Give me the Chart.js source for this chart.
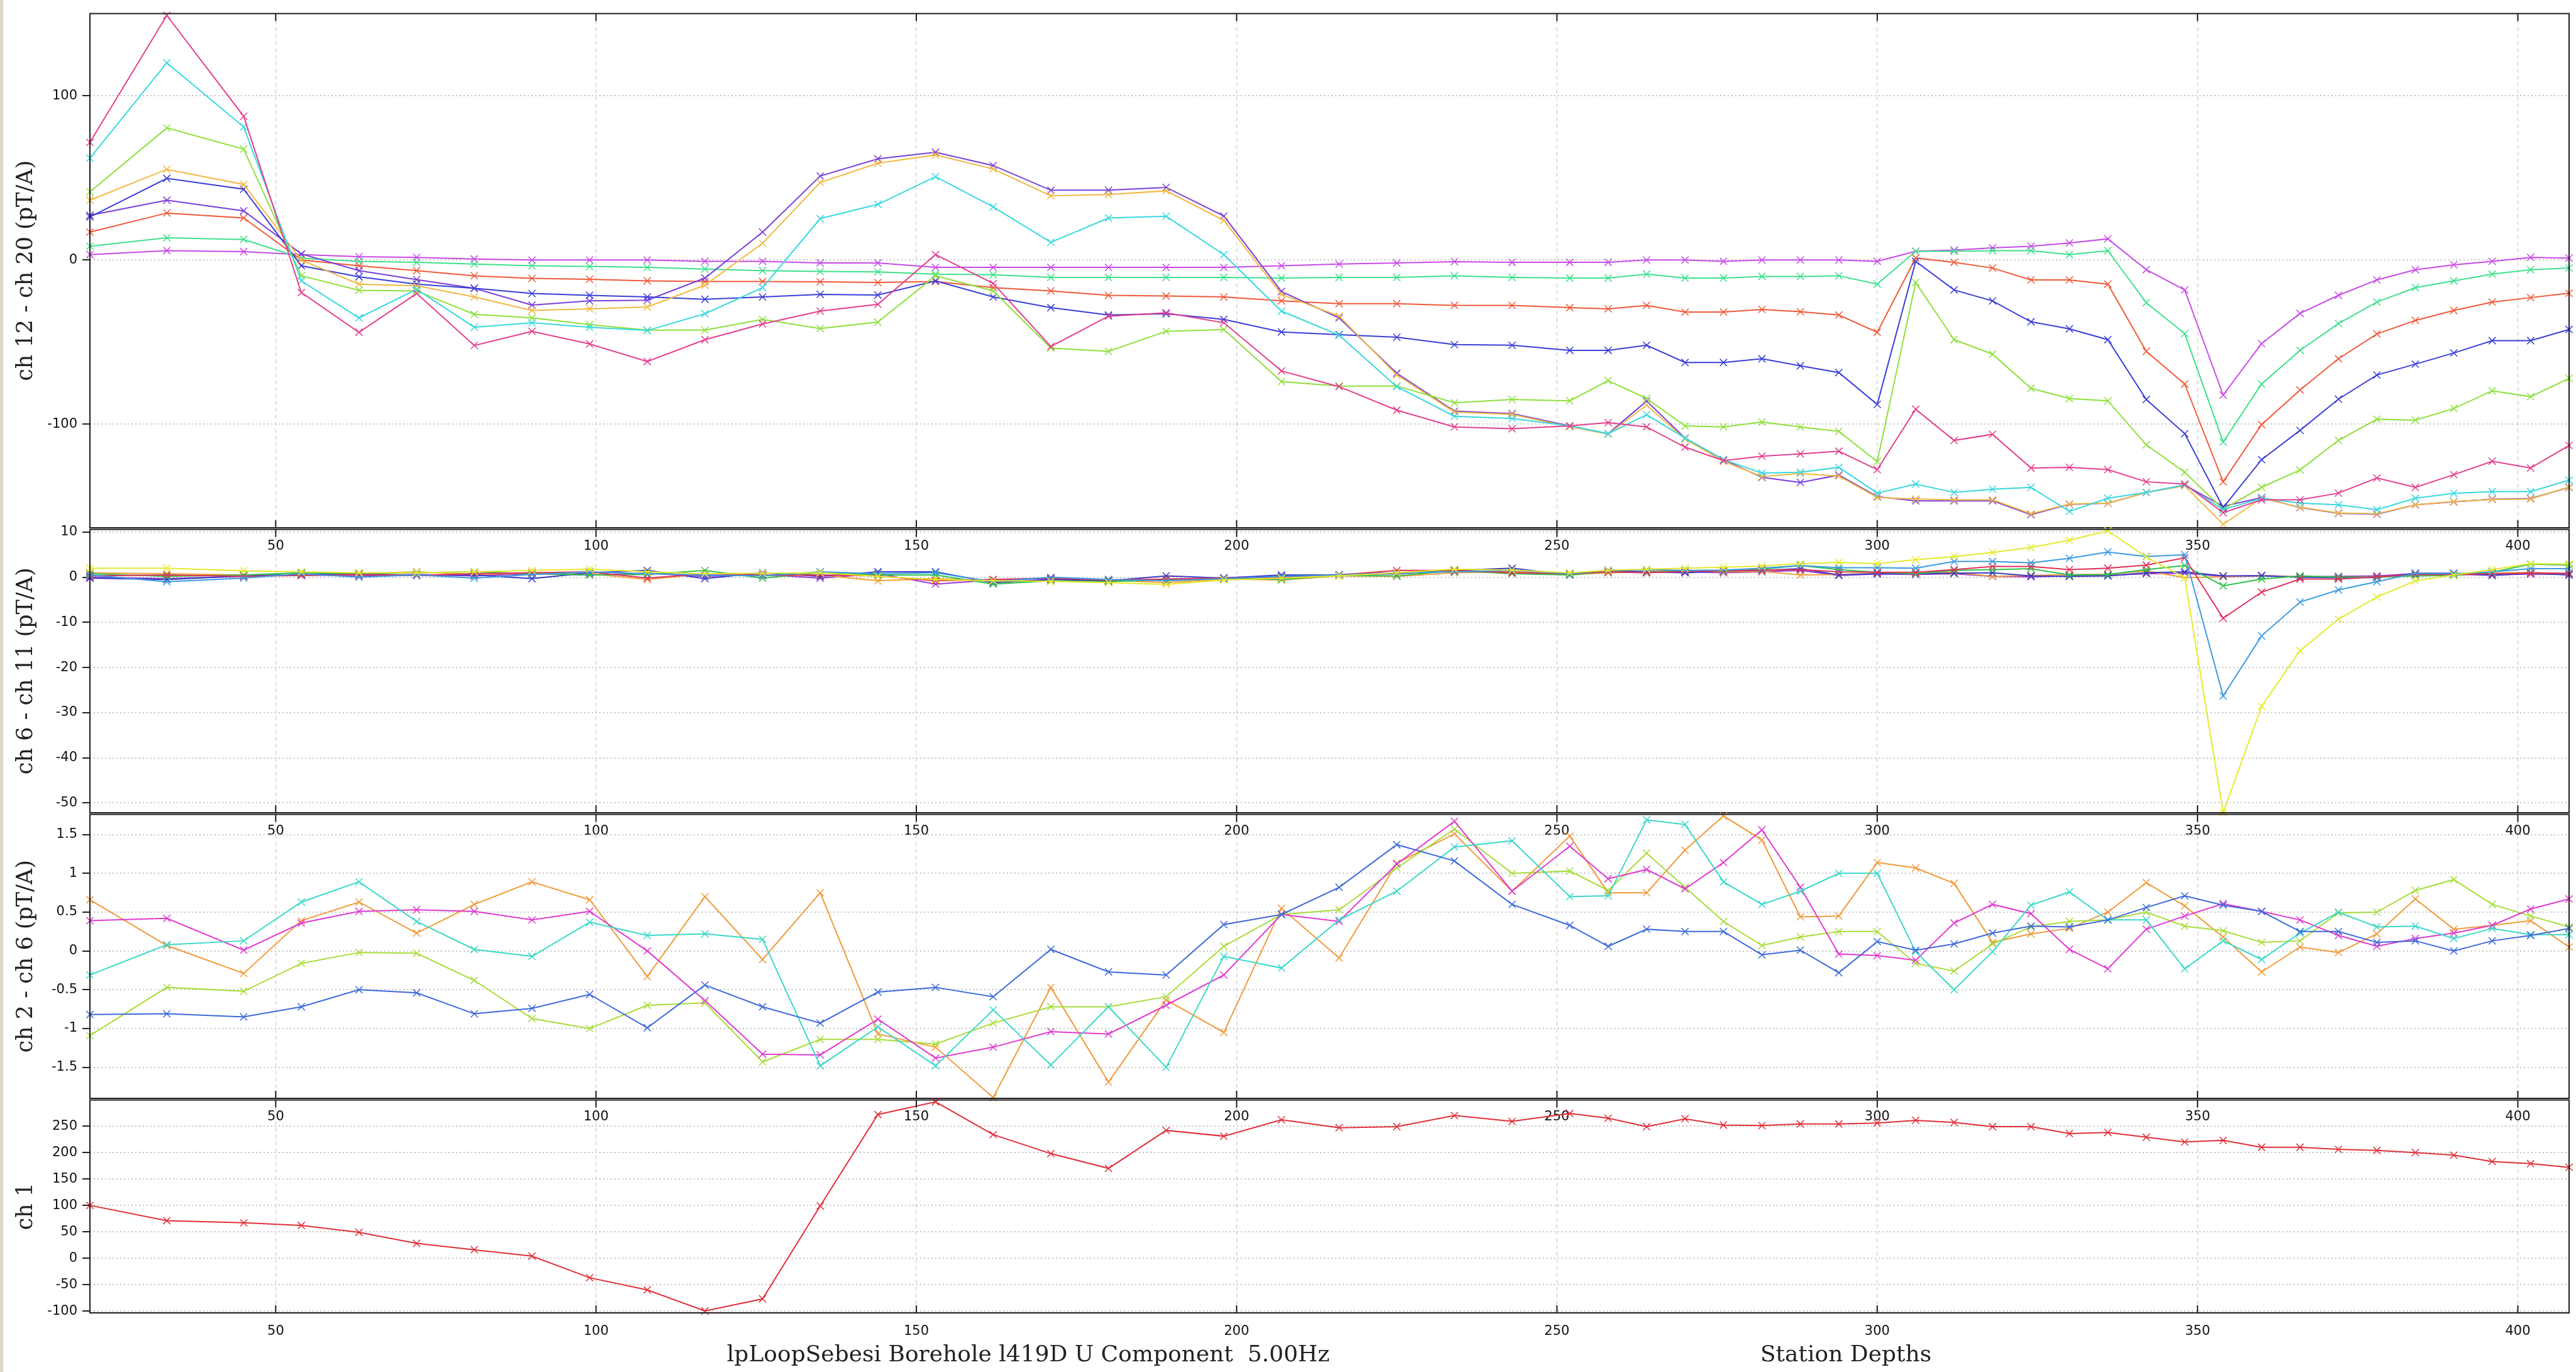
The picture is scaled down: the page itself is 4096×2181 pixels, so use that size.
<!DOCTYPE html>
<html>
<head>
<meta charset="utf-8">
<title>lpLoopSebesi Borehole l419D U Component 5.00Hz</title>
<script src="https://cdn.jsdelivr.net/npm/chart.js@4.4.1/dist/chart.umd.min.js"></script>
<style>
  html, body { margin: 0; padding: 0; background: #fff; }
  body { width: 4096px; height: 2181px; position: relative; overflow: hidden; }
  canvas { position: absolute; left: 0; }
  #edge { position: absolute; left: 0; top: 0; width: 5px; height: 2181px; background: #ddd6ca; }
  .caption { position: absolute; top: 2130px; font-family: "DejaVu Serif", serif; font-size: 36px;
             line-height: 44px; white-space: pre; color: #222; transform: translateX(-50%); }
</style>
</head>
<body>
<div id="edge"></div>
<canvas id="p1"></canvas>
<canvas id="p2"></canvas>
<canvas id="p3"></canvas>
<canvas id="p4"></canvas>
<div class="caption" style="left:1635px">lpLoopSebesi Borehole l419D U Component  5.00Hz</div>
<div class="caption" style="left:2935px">Station Depths</div>
<script>
// station depths (x)
const depths = [21, 33, 45, 54, 63, 72, 81, 90, 99, 108, 117, 126, 135, 144, 153, 162, 171, 180, 189, 198,
  207, 216, 225, 234, 243, 252, 258, 264, 270, 276, 282, 288, 294, 300, 306, 312, 318, 324, 330, 336,
  342, 348, 354, 360, 366, 372, 378, 384, 390, 396, 402, 408];
const xTicks = [50, 100, 150, 200, 250, 300, 350, 400];

// ch 12 - ch 20 (pT/A)
const p1Pink = [71.6, 148.9, 87.5, -19.8, -44, -20.4, -52, -43.4, -51.1, -61.8, -48.5, -38.9, -31.1, -27, 3.3, -14.3, -52.6, -34.2, -32.1, -38.2,
  -67.5, -77.1, -91.4, -101.6, -102.7, -101, -99, -101.6, -113.9, -122.1, -119.4, -118, -116.4, -127.6, -90.8, -109.8, -106.1, -126.6, -126.2, -127.6,
  -135, -136.4, -153.8, -146, -146, -141.9, -132.7, -138.4, -130.7, -122.5, -126.6, -112.9];
const p1Cyan = [62, 120, 81, -12.7, -35.2, -17.8, -40.9, -38.2, -40.9, -42.9, -32.7, -16.8, 25.2, 33.9, 50.7, 32.3, 10.8, 25.6, 26.6, 3.3,
  -31.1, -45.8, -77.1, -95.1, -96.5, -101, -105.7, -94.1, -108.4, -121.5, -129.7, -129.2, -126.2, -141.9, -136.4, -141.5, -139.5, -138.4, -153, -145,
  -141.5, -137, -152, -145, -148, -149, -152, -145, -142, -141, -141, -134];
const p1YellowGreen = [41.5, 80.4, 67.5, -9.6, -18.4, -18.8, -33.1, -35.2, -39.3, -42.7, -42.7, -36.2, -41.7, -37.8, -9.6, -18.8, -53.6, -55.6, -43.4, -42.3,
  -74, -76.7, -76.7, -86.9, -84.9, -85.7, -73.4, -84.3, -101, -101.6, -98.6, -101.6, -104.3, -122.7, -13.7, -48.5, -57.3, -78.1, -84.3, -85.7,
  -112.5, -129.2, -151.7, -138.4, -127.8, -109.8, -96.9, -97.5, -90.4, -79.6, -83.2, -72];
const p1Orange = [36.4, 55.2, 46, 0, -14.7, -15.7, -22.5, -30.7, -29.7, -28.6, -15.3, 10.2, 47.2, 58.9, 64, 55.4, 39.1, 39.9, 42.1, 24.1,
  -20.9, -34.2, -69.9, -92.5, -94, -101.5, -106, -88.3, -109, -122.5, -131.8, -130, -131.5, -144.5, -145.5, -146, -146, -154.5, -148.5, -148,
  -141.5, -137.5, -160.9, -145, -150.5, -154, -154.5, -149, -147, -145.8, -145.5, -138.2];
const p1Blue = [26.2, 49.7, 43.1, -3.5, -10.2, -14.7, -17.2, -20.4, -21.5, -22.5, -23.9, -22.5, -20.9, -21.3, -12.7, -22.5, -29, -33.5, -32.7, -36.2,
  -43.8, -45.4, -47, -51.5, -51.9, -55, -55, -51.9, -62.4, -62.4, -60.1, -64.4, -68.5, -87.9, -0.8, -18.2, -24.9, -37.6, -41.9, -48.5,
  -84.9, -105.7, -150.7, -121.5, -103.7, -84.7, -70, -63.4, -56.6, -49.1, -49.1, -42.3];
const p1Purple = [27.2, 36.4, 29.9, 3.7, -6.5, -11.9, -17.2, -27.4, -24.9, -24.5, -11, 17, 51.1, 61.6, 65.6, 57.5, 42.5, 42.5, 44.2, 26.8,
  -19.2, -35.2, -68.9, -92, -93.5, -101, -105.7, -85.9, -108.4, -121.5, -132.3, -135.4, -130.9, -144, -146.6, -146.6, -146.6, -155, -148.7, -148.1,
  -141.5, -137, -150, -144.6, -150.7, -154.2, -154.8, -149, -147.2, -145.6, -145.2, -138.4];
const p1Red = [17, 28.6, 25.6, 0, -3.5, -6.5, -9.6, -11.2, -11.7, -12.7, -13.1, -13.1, -13.3, -13.7, -13.1, -16.8, -18.8, -21.5, -21.9, -22.5,
  -24.9, -26.6, -26.6, -27.6, -27.6, -29, -29.7, -27.6, -31.7, -31.7, -30.1, -31.5, -33.5, -44, 1.2, -1.4, -4.9, -12.1, -12.1, -14.7,
  -55.6, -75.5, -135, -100.2, -79.1, -60.1, -45, -36.8, -30.7, -25.6, -22.9, -20.2];
const p1Teal = [8.4, 13.5, 12.5, 1.2, -0.8, -1.4, -2.5, -3.5, -3.9, -4.5, -5.5, -6.5, -7, -7.2, -8.6, -9, -10.6, -10.6, -10.6, -10.6,
  -11, -10.6, -10.6, -9.6, -10.6, -11, -11, -8.6, -11, -11, -10, -10, -9.6, -14.7, 5.3, 5.3, 5.7, 5.7, 3.3, 5.7,
  -26, -44.8, -110.8, -75.5, -55, -38.7, -25.6, -16.8, -12.7, -8.6, -5.9, -4.9];
const p1Magenta = [3.3, 5.7, 5.1, 3.3, 2.0, 1.6, 0.6, 0, 0, 0, -0.8, -0.8, -1.8, -1.8, -4.5, -4.5, -4.5, -4.5, -4.5, -4.5,
  -3.5, -2.5, -1.8, -1, -1.4, -1.4, -1.4, 0, 0, -0.8, 0, 0, 0, -0.8, 5.3, 6.1, 7.4, 8.4, 10.4, 12.9,
  -5.9, -18.2, -82.2, -50.9, -32.5, -21.5, -12.1, -5.9, -2.9, -0.8, 1.6, 1.2];
const p1Ticks = [-100, 0, 100];

// ch 6 - ch 11 (pT/A)
const p2Yellow = [2.0, 2.0, 1.4, 1.2, 1.0, 1.0, 1.2, 1.5, 1.8, 1.2, 0.8, 0.9, 1.0, 0.2, -0.5, -0.8, -0.9, -1.2, -1.6, -0.6,
  -0.2, 0.3, 1.0, 1.8, 1.6, 1.0, 1.5, 1.8, 2.0, 2.2, 2.5, 3.0, 3.3, 3.0, 3.9, 4.6, 5.5, 6.6, 8.2, 10.3,
  4.5, -0.1, -52.2, -28.6, -16.3, -9.3, -4.4, -0.8, 0.5, 1.7, 3.0, 2.9];
const p2Sky = [0.5, -1.0, -0.2, 0.8, 0.0, 0.5, -0.2, 0.6, 1.2, 0.8, 0.5, 0.3, 1.2, 0.8, 1.0, -1.0, 0.0, -0.5, -0.8, -0.3,
  0.2, 0.5, 1.0, 1.2, 1.5, 0.8, 1.6, 1.7, 1.5, 1.6, 2.0, 2.6, 2.1, 2.1, 2.0, 3.5, 3.5, 3.2, 4.2, 5.6,
  4.6, 5.0, -26.3, -13.0, -5.5, -2.8, -1.0, 0.9, 0.8, 1.2, 1.9, 1.9];
const p2Crimson = [0.3, 0.5, 0.2, 0.4, 0.6, 0.4, 0.8, 1.0, 1.2, -0.2, 0.8, 0.4, 0.5, 0.3, -0.8, -0.5, -0.2, -0.6, -0.4, -0.2,
  0.0, 0.5, 1.5, 1.5, 1.0, 0.8, 1.2, 1.0, 1.3, 1.4, 1.6, 1.7, 1.2, 1.1, 1.1, 1.7, 2.4, 2.4, 1.7, 2.0,
  2.7, 4.3, -9.1, -3.3, -0.4, -0.4, 0.1, 0.6, 0.6, 0.8, 0.9, 0.9];
const p2Green = [0.8, 0.2, 0.5, 1.0, 0.8, 1.0, 1.2, 0.8, 0.5, 0.6, 1.5, -0.2, 1.0, 0.5, 0.5, -1.5, -0.8, -1.0, -0.5, -0.2,
  -0.5, 0.4, 0.3, 1.5, 0.8, 0.5, 1.2, 1.0, 1.5, 1.3, 1.8, 2.6, 1.7, 1.1, 0.8, 1.5, 1.7, 1.9, 0.5, 0.6,
  1.7, 2.6, -1.9, -0.4, 0.3, 0.0, 0.0, 0.3, 0.4, 1.1, 2.9, 2.7];
const p2Navy = [-0.2, -0.5, 0.3, 0.6, 0.8, 0.4, 0.5, -0.3, 1.0, 1.5, -0.3, 1.0, 0.2, 1.2, 1.2, -1.2, -0.5, -0.8, 0.3, -0.2,
  0.5, 0.5, 0.8, 1.5, 2.0, 0.5, 1.5, 1.2, 1.0, 1.4, 1.5, 1.9, 0.5, 0.8, 0.8, 0.9, 1.0, 0.3, 0.2, 0.3,
  1.0, 1.2, 0.3, 0.3, 0.0, -0.1, -0.1, 0.9, 0.9, 0.4, 0.9, 0.5];
const p2Orange = [1.0, 0.8, 0.5, 0.4, 0.8, 1.2, 0.6, 1.0, 0.8, -0.5, 0.8, 0.5, 0.5, -0.8, -0.3, -0.8, -0.9, -0.6, -1.2, -0.4,
  -0.6, 0.3, 0.2, 1.0, 1.2, 0.6, 1.0, 1.3, 1.4, 1.2, 1.3, 0.5, 0.6, 0.9, 0.9, 1.1, 0.2, 0.4, 0.6, 0.6,
  1.4, -0.1, 0.1, 0.3, 0.1, -0.1, 0.0, 0.5, 0.5, 0.9, 1.1, 0.8];
const p2Purple = [0.0, -0.3, 0.2, 0.5, 0.3, 0.6, 0.3, 0.8, 0.5, 0.9, 0.2, 0.6, -0.2, 0.8, -1.5, -0.6, -0.3, -0.8, -0.5, -0.1,
  0.2, 0.6, 1.0, 1.3, 1.2, 0.8, 1.0, 1.2, 1.2, 1.0, 1.2, 1.5, 0.4, 0.7, 0.6, 0.8, 0.2, 0.1, 0.3, 0.4,
  0.8, 0.9, 0.2, 0.4, 0.1, 0.2, 0.3, 0.8, 0.6, 0.5, 0.7, 0.6];
const p2Ticks = [-50, -40, -30, -20, -10, 0, 10];

// ch 2 - ch 6 (pT/A)
const p3Blue = [-0.82, -0.81, -0.85, -0.72, -0.5, -0.54, -0.81, -0.74, -0.56, -0.99, -0.44, -0.72, -0.93, -0.53, -0.47, -0.59, 0.02, -0.27, -0.31, 0.34,
  0.47, 0.82, 1.37, 1.16, 0.6, 0.33, 0.06, 0.28, 0.25, 0.25, -0.05, 0.01, -0.28, 0.12, 0.01, 0.09, 0.23, 0.32, 0.31, 0.4,
  0.56, 0.71, 0.59, 0.51, 0.25, 0.25, 0.11, 0.13, 0, 0.13, 0.2, 0.29];
const p3Cyan = [-0.31, 0.08, 0.13, 0.63, 0.89, 0.38, 0.02, -0.07, 0.37, 0.2, 0.22, 0.15, -1.48, -0.98, -1.48, -0.76, -1.47, -0.72, -1.5, -0.07,
  -0.22, 0.4, 0.77, 1.34, 1.42, 0.7, 0.71, 1.69, 1.63, 0.89, 0.6, 0.77, 1.0, 1.0, -0.01, -0.5, -0.01, 0.59, 0.76, 0.4,
  0.4, -0.23, 0.13, -0.11, 0.23, 0.5, 0.31, 0.32, 0.16, 0.29, 0.21, 0.21];
const p3Magenta = [0.39, 0.42, 0.01, 0.36, 0.51, 0.53, 0.51, 0.4, 0.51, 0, -0.64, -1.33, -1.34, -0.88, -1.38, -1.24, -1.04, -1.07, -0.7, -0.31,
  0.47, 0.38, 1.12, 1.67, 0.77, 1.35, 0.93, 1.05, 0.8, 1.14, 1.56, 0.82, -0.04, -0.06, -0.12, 0.36, 0.6, 0.48, 0.02, -0.23,
  0.28, 0.45, 0.61, 0.51, 0.4, 0.2, 0.06, 0.16, 0.23, 0.33, 0.54, 0.67];
const p3YellowGreen = [-1.09, -0.47, -0.52, -0.16, -0.02, -0.03, -0.38, -0.87, -1.0, -0.7, -0.67, -1.43, -1.14, -1.14, -1.2, -0.93, -0.72, -0.72, -0.59, 0.06,
  0.47, 0.53, 1.07, 1.57, 1.0, 1.03, 0.78, 1.26, 0.82, 0.38, 0.07, 0.18, 0.25, 0.25, -0.16, -0.26, 0.09, 0.31, 0.38, 0.4,
  0.5, 0.32, 0.26, 0.11, 0.13, 0.49, 0.5, 0.78, 0.92, 0.6, 0.45, 0.31];
const p3Orange = [0.66, 0.07, -0.29, 0.39, 0.63, 0.23, 0.6, 0.89, 0.66, -0.33, 0.7, -0.11, 0.75, -1.07, -1.24, -1.89, -0.47, -1.69, -0.63, -1.05,
  0.55, -0.09, 1.13, 1.51, 0.77, 1.48, 0.75, 0.75, 1.3, 1.74, 1.43, 0.44, 0.45, 1.14, 1.07, 0.87, 0.11, 0.22, 0.29, 0.5,
  0.88, 0.58, 0.18, -0.27, 0.05, -0.02, 0.22, 0.67, 0.28, 0.33, 0.39, 0.05];
const p3Ticks = [-1.5, -1, -0.5, 0, 0.5, 1, 1.5];

// ch 1
const p4Red = [100, 71, 67, 62, 49, 28, 16, 4, -37, -60, -100, -77, 99, 272, 296, 234, 198, 170, 242, 231,
  262, 247, 249, 270, 259, 274, 265, 249, 264, 252, 251, 254, 254, 256, 261, 257, 249, 249, 236, 238,
  229, 220, 223, 210, 210, 206, 204, 200, 195, 183, 179, 172];
const p4Ticks = [-100, -50, 0, 50, 100, 150, 200, 250];

const tickFont = { family: 'DejaVu Sans', size: 21 };
const PAD = 18;      // room above each panel
const XAXIS = 50;    // room for x labels under each panel

function series(vals, color) {
  return {
    data: vals.map((v, i) => ({ x: depths[i], y: v })),
    borderColor: color,
    backgroundColor: color,
    borderWidth: 2,
    pointStyle: 'crossRot',
    pointRadius: 8,
    pointBorderWidth: 1.5,
    tension: 0,
    clip: false
  };
}

// box round the plot plus inward x ticks top and bottom
const frame = {
  id: 'frame',
  afterDatasetsDraw(chart) {
    const { ctx, chartArea: a, scales: { x } } = chart;
    ctx.save();
    ctx.strokeStyle = '#1e1e1e';
    ctx.lineWidth = 2;
    ctx.strokeRect(a.left, a.top, a.right - a.left, a.bottom - a.top);
    ctx.beginPath();
    x.ticks.forEach(t => {
      const px = x.getPixelForValue(t.value);
      ctx.moveTo(px, a.top); ctx.lineTo(px, a.top + 12);
      ctx.moveTo(px, a.bottom); ctx.lineTo(px, a.bottom - 12);
    });
    ctx.stroke();
    ctx.restore();
  }
};

function panel(id, top, height, label, yMin, yMax, yTicks, datasets) {
  const cv = document.getElementById(id);
  cv.width = 4096;
  cv.height = PAD + height + XAXIS;
  cv.style.top = (top - PAD) + 'px';
  return new Chart(cv, {
    type: 'line',
    data: { datasets },
    options: {
      responsive: false,
      animation: false,
      events: [],
      layout: { padding: { top: PAD, right: 11, left: 0, bottom: 0 } },
      plugins: { legend: { display: false }, tooltip: { enabled: false } },
      scales: {
        x: {
          type: 'linear', min: 21, max: 408,
          afterBuildTicks: s => { s.ticks = xTicks.map(v => ({ value: v })); },
          afterFit: s => { s.height = XAXIS; },
          grid: { color: '#cacaca', lineWidth: 1.2, drawTicks: false },
          border: { display: false, dash: [6, 5] },
          ticks: { font: tickFont, color: '#111', padding: 17, autoSkip: false, maxRotation: 0 }
        },
        y: {
          type: 'linear', min: yMin, max: yMax,
          afterBuildTicks: s => { s.ticks = yTicks.map(v => ({ value: v })); },
          afterFit: s => { s.width = 143; },
          grid: { color: '#c4c4c4', lineWidth: 2, tickLength: 12, tickColor: '#222', tickWidth: 2 },
          border: { display: false, dash: [2, 4] },
          ticks: { font: tickFont, color: '#111', padding: 8, autoSkip: false, callback: v => String(v) },
          title: {
            display: true, text: label, color: '#222',
            font: { family: 'DejaVu Serif', size: 35 },
            padding: { top: 21, bottom: 0 }
          }
        }
      }
    },
    plugins: [frame]
  });
}

panel('p1', 19, 820, 'ch 12 - ch 20 (pT/A)', -163, 150, p1Ticks, [
  series(p1Pink, '#e3408f'),
  series(p1Cyan, '#3ad8e0'),
  series(p1YellowGreen, '#8ee03c'),
  series(p1Orange, '#f2b842'),
  series(p1Blue, '#3a3fd6'),
  series(p1Purple, '#7a3fd8'),
  series(p1Red, '#ef5a3a'),
  series(p1Teal, '#3ee08c'),
  series(p1Magenta, '#c84ae6')
]);

panel('p2', 839, 453, 'ch 6 - ch 11 (pT/A)', -52.2, 10.6, p2Ticks, [
  series(p2Yellow, '#e6ea2a'),
  series(p2Sky, '#3b9be0'),
  series(p2Crimson, '#e0305a'),
  series(p2Green, '#2fc24a'),
  series(p2Navy, '#3a3ac8'),
  series(p2Orange, '#f0a03a'),
  series(p2Purple, '#9a3ad0')
]);

panel('p3', 1292, 454, 'ch 2 - ch 6 (pT/A)', -1.9, 1.76, p3Ticks, [
  series(p3Blue, '#3d6ad8'),
  series(p3Cyan, '#3ad8c8'),
  series(p3Magenta, '#e03ad0'),
  series(p3YellowGreen, '#a8dc3a'),
  series(p3Orange, '#f09a3a')
]);

panel('p4', 1746, 341, 'ch 1', -103.5, 299.5, p4Ticks, [
  series(p4Red, '#e0303a')
]);
</script>
</body>
</html>
